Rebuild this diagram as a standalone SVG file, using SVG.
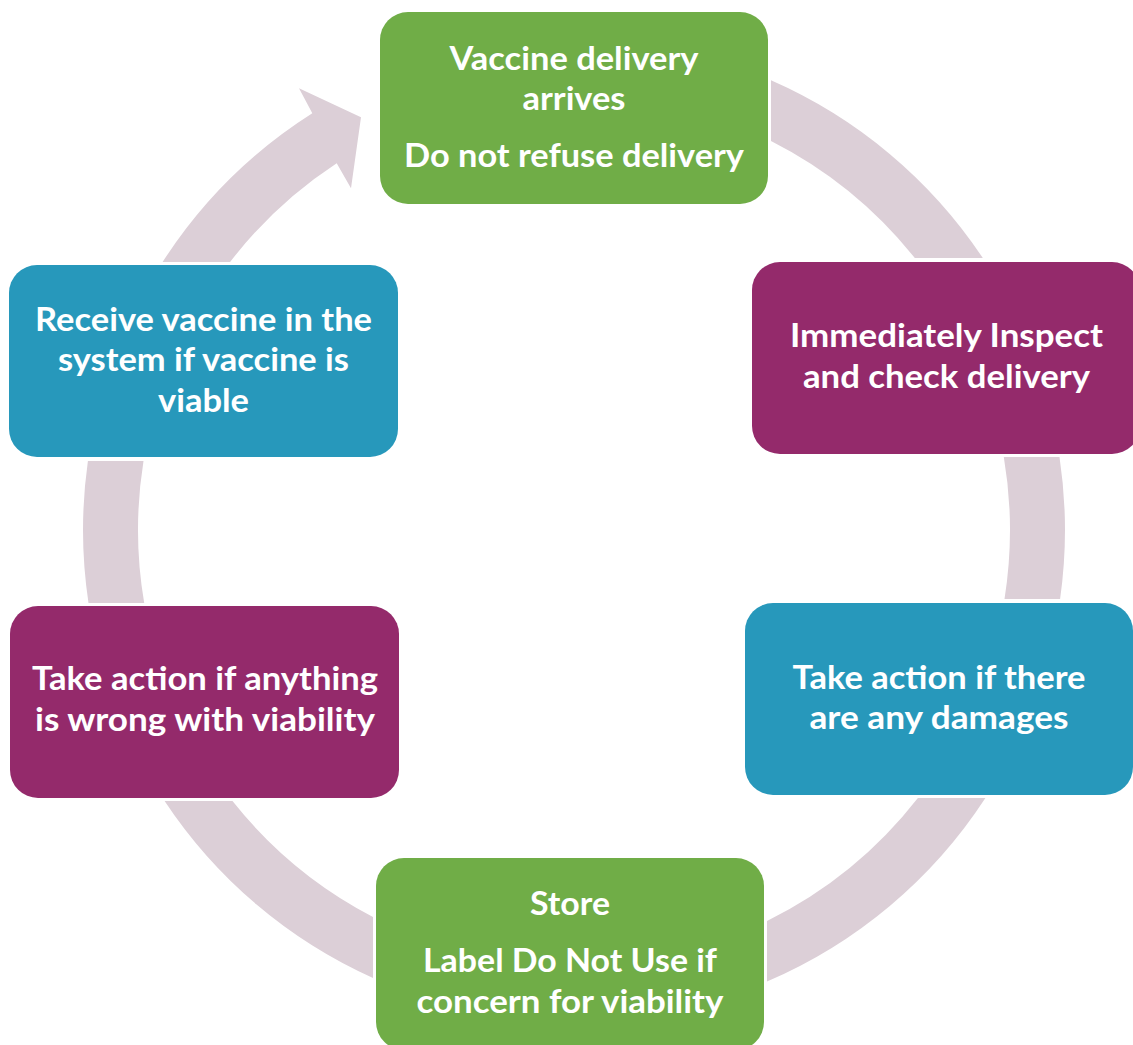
<svg xmlns="http://www.w3.org/2000/svg" width="1133" height="1045" viewBox="0 0 1133 1045">
<style>
.band{fill:#dccfd7}
.g{fill:#70ad47}
.p{fill:#942a6b}
.b{fill:#2798bb}
text{font-family:Lato,"Open Sans","Liberation Sans",sans-serif;font-weight:bold;font-size:33px;fill:#ffffff;text-anchor:middle}
</style>
<rect width="1133" height="1045" fill="#ffffff"/>
<g id="connectors">
<path class="band" d="M 771 80.3 A 491 491 0 0 1 982.8 258 L 914.8 258 A 436 436 0 0 0 771 141 Z"/>
<path class="band" d="M 1059.5 457 A 491 491 0 0 1 1060.1 599 L 1004.5 599 A 436 436 0 0 0 1003.8 457 Z"/>
<path class="band" d="M 985.4 798 A 491 491 0 0 1 767 981.5 L 767 921 A 436 436 0 0 0 917.9 798 Z"/>
<path class="band" d="M 373 978 A 491 491 0 0 1 164.6 801 L 232.5 801 A 436 436 0 0 0 373 916.9 Z"/>
<path class="band" d="M 88.5 603 A 491 491 0 0 1 87.9 461 L 143.5 461 A 436 436 0 0 0 144.2 603 Z"/>
<path class="band" d="M 162.6 262 A 491 491 0 0 1 312.3 113.3 L 299 88.3 L 361 117.3 L 351 188.3 L 336.7 163.3 A 436 436 0 0 0 230.1 262 Z"/>
</g>
<g id="node1">
<rect class="g" x="380" y="12" width="388" height="192" rx="28"/>
<text x="574" y="70" textLength="249" lengthAdjust="spacingAndGlyphs">Vaccine delivery</text>
<text x="574" y="110" textLength="103" lengthAdjust="spacingAndGlyphs">arrives</text>
<text x="574" y="167" textLength="340" lengthAdjust="spacingAndGlyphs">Do not refuse delivery</text>
</g>
<g id="node2">
<rect class="p" x="752" y="262" width="388" height="192" rx="28"/>
<text x="946.5" y="347" textLength="313" lengthAdjust="spacingAndGlyphs">Immediately Inspect</text>
<text x="946.5" y="388" textLength="287" lengthAdjust="spacingAndGlyphs">and check delivery</text>
</g>
<g id="node3">
<rect class="b" x="745" y="603" width="388" height="192" rx="28"/>
<text x="939" y="689" textLength="293" lengthAdjust="spacingAndGlyphs">Take action if there</text>
<text x="939" y="729" textLength="259" lengthAdjust="spacingAndGlyphs">are any damages</text>
</g>
<g id="node4">
<rect class="g" x="376" y="858" width="388" height="192" rx="28"/>
<text x="570" y="915" textLength="80" lengthAdjust="spacingAndGlyphs">Store</text>
<text x="570" y="972" textLength="294" lengthAdjust="spacingAndGlyphs">Label Do Not Use if</text>
<text x="570" y="1013" textLength="307" lengthAdjust="spacingAndGlyphs">concern for viability</text>
</g>
<g id="node5">
<rect class="p" x="10" y="606" width="389" height="192" rx="28"/>
<text x="205" y="690" textLength="346" lengthAdjust="spacingAndGlyphs">Take action if anything</text>
<text x="205" y="731" textLength="340" lengthAdjust="spacingAndGlyphs">is wrong with viability</text>
</g>
<g id="node6">
<rect class="b" x="9" y="265" width="389" height="192" rx="28"/>
<text x="203.5" y="331" textLength="337" lengthAdjust="spacingAndGlyphs">Receive vaccine in the</text>
<text x="203.5" y="371" textLength="291" lengthAdjust="spacingAndGlyphs">system if vaccine is</text>
<text x="203.5" y="412" textLength="91" lengthAdjust="spacingAndGlyphs">viable</text>
</g>
</svg>
